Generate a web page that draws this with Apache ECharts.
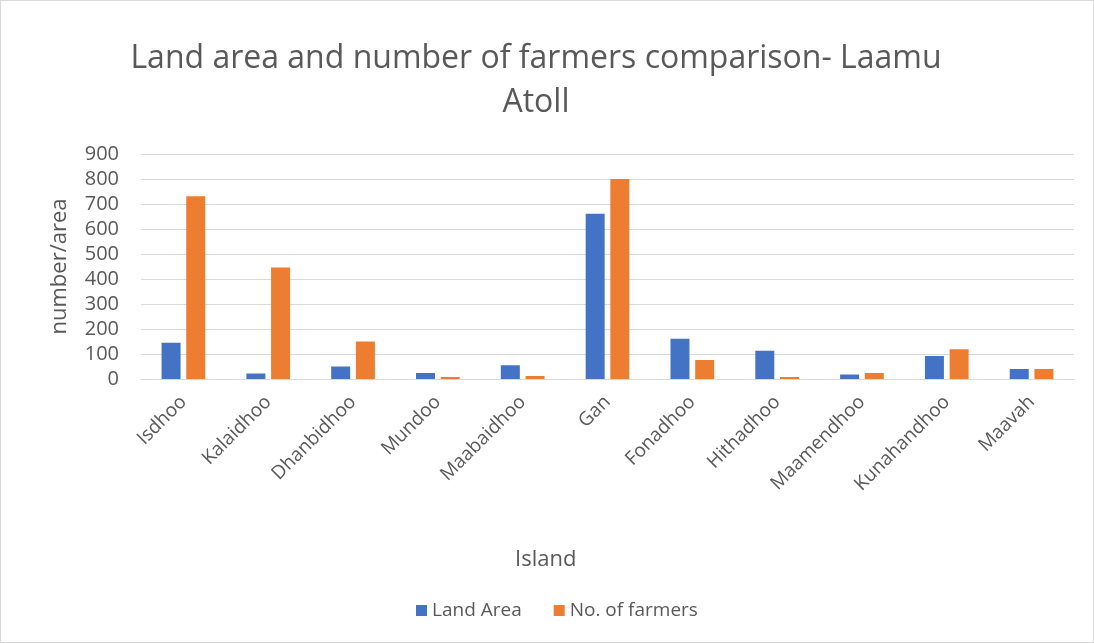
<!DOCTYPE html>
<html><head><meta charset="utf-8">
<script src="https://cdn.jsdelivr.net/npm/echarts@6/dist/echarts.min.js"></script>
<style>html,body{margin:0;padding:0;background:#fff}#c{position:absolute;left:0;top:0;width:1094px;height:643px;box-sizing:border-box;border:1px solid #d9d9d9}</style>
</head><body><div id="c"></div>
<script>
const categories = ['Isdhoo','Kalaidhoo','Dhanbidhoo','Mundoo','Maabaidhoo','Gan','Fonadhoo','Hithadhoo','Maamendhoo','Kunahandhoo','Maavah'];
const landArea = [145, 22, 50, 24, 55, 661, 161, 113, 18, 92, 40];
const farmers = [731, 446, 150, 8, 12, 800, 76, 8, 24, 119, 40];
const yTicks = [0, 900, 100];
const font = '"Open Sans", sans-serif';
const chart = echarts.init(document.getElementById('c'));
chart.setOption({
  animation: false,
  title: {
    text: 'Land area and number of farmers comparison- Laamu\nAtoll',
    left: 530, top: 31, textAlign: 'center',
    textStyle: {fontFamily: font, fontSize: 32, fontWeight: 'normal', color: '#595959', lineHeight: 44, align: 'center'}
  },
  legend: {
    bottom: 17, left: 410, itemWidth: 11, itemHeight: 11, itemGap: 32,
    icon: 'rect',
    textStyle: {fontFamily: font, fontSize: 19, color: '#595959'},
    data: ['Land Area', 'No. of farmers']
  },
  grid: {left: 140, right: 19, top: 153, bottom: 263},
  xAxis: {
    type: 'category', data: categories,
    axisLine: {lineStyle: {color: '#d9d9d9', width: 1}},
    axisTick: {show: false},
    axisLabel: {rotate: 45, fontFamily: font, fontSize: 19, color: '#595959', interval: 0, margin: 20}
  },
  yAxis: {
    type: 'value', min: yTicks[0], max: yTicks[1], interval: yTicks[2],
    name: 'number/area', nameLocation: 'middle', nameGap: 70,
    nameTextStyle: {fontFamily: font, fontSize: 22, color: '#595959'},
    axisLabel: {fontFamily: font, fontSize: 20, color: '#595959', margin: 22},
    splitLine: {lineStyle: {color: '#d9d9d9', width: 1}},
    axisLine: {show: false}, axisTick: {show: false}
  },
  graphic: [{
    type: 'text', left: 514, top: 548,
    style: {text: 'Island', fontFamily: font, fontSize: 22, fill: '#595959'}
  }],
  series: [
    {name: 'Land Area', type: 'bar', data: landArea, barWidth: 19, barGap: '30%', itemStyle: {color: '#4472c4'}},
    {name: 'No. of farmers', type: 'bar', data: farmers, barWidth: 19, barGap: '30%', itemStyle: {color: '#ed7d31'}}
  ]
});
</script></body></html>
